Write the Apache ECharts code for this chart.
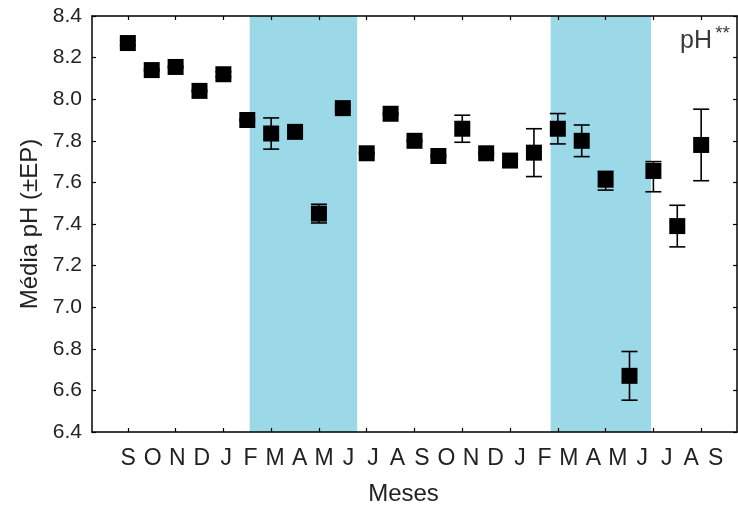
<!DOCTYPE html>
<html>
<head>
<meta charset="utf-8">
<script src="https://cdn.jsdelivr.net/npm/echarts@6/dist/echarts.min.js"></script>
<style>html,body{margin:0;padding:0;background:#fff}#c{width:738px;height:511px}</style>
</head>
<body>
<div id="c"></div>
<script>
const months = ['S','O','N','D','J','F','M','A','M','J','J','A','S','O','N','D','J','F','M','A','M','J','J','A','S'];
const phMean = [8.27,8.14,8.155,8.04,8.12,7.90,7.835,7.843,7.45,7.957,7.74,7.93,7.80,7.727,7.858,7.74,7.705,7.743,7.858,7.80,7.613,6.67,7.655,7.39,7.78];
const phErrLow  = [0.012,0.004,0.004,0.004,0.012,0.004,0.075,0.004,0.045,0.012,0.004,0.004,0.004,0.004,0.065,0.004,0.004,0.115,0.073,0.076,0.05,0.117,0.10,0.1,0.172];
const phErrHigh = [0.012,0.004,0.004,0.004,0.012,0.004,0.075,0.004,0.045,0.012,0.004,0.004,0.004,0.004,0.065,0.004,0.004,0.115,0.073,0.076,0.04,0.117,0.045,0.1,0.172];
const rainyStart = [5.1, 17.7];
const rainyEnd = [9.6, 21.9];
const yMin = 6.4, yMax = 8.4, yStep = 0.2;

const FONT = "'Liberation Sans', Arial, sans-serif";
const padCats = [''].concat(months, ['']);
const tickEvery2 = (idx) => idx >= 1 && idx <= months.length && (idx - 1) % 2 === 0;
const axLine = { show: true, onZero: false, lineStyle: { color: '#000', width: 1.5 } };
const tickIn = { show: true, inside: true, length: 4, lineStyle: { color: '#000', width: 1.2 } };

const chart = echarts.init(document.getElementById('c'), null, { renderer: 'canvas' });
chart.setOption({
  animation: false,
  backgroundColor: '#fff',
  grid: [
    { left: 92, right: 1, top: 16, bottom: 74 },
    { left: 116, right: 10, top: 16, bottom: 74 }
  ],
  graphic: [
    { type: 'text', right: 26, top: 29, style: { text: 'pH', font: '25px ' + FONT, fill: '#3a3a3a' } },
    { type: 'text', right: 8, top: 24, style: { text: '**', font: '19px ' + FONT, fill: '#3a3a3a' } }
  ],
  xAxis: [
    { type: 'category', gridIndex: 0, position: 'bottom', data: padCats, boundaryGap: true, z: 5,
      axisLine: axLine, axisTick: Object.assign({}, tickIn, { alignWithLabel: true, interval: tickEvery2 }),
      axisLabel: { show: false }, splitLine: { show: false },
      name: 'Meses', nameLocation: 'middle', nameGap: 50,
      nameTextStyle: { fontFamily: FONT, fontSize: 24, color: '#222', padding: [0, 22, 0, 0] } },
    { type: 'category', gridIndex: 0, position: 'top', data: padCats, boundaryGap: true, z: 5,
      axisLine: axLine, axisTick: Object.assign({}, tickIn, { alignWithLabel: true, interval: tickEvery2 }),
      axisLabel: { show: false }, splitLine: { show: false } },
    { type: 'value', gridIndex: 0, min: -1.5, max: months.length + 0.5, show: false },
    { type: 'category', gridIndex: 1, position: 'bottom', data: months, boundaryGap: true,
      axisLine: { show: false }, axisTick: { show: false }, splitLine: { show: false },
      axisLabel: { interval: 0, margin: 10, fontFamily: FONT, fontSize: 23, color: '#222' } }
  ],
  yAxis: [
    { type: 'value', gridIndex: 0, position: 'left', min: yMin, max: yMax, interval: yStep, z: 5,
      axisLine: axLine, axisTick: tickIn, splitLine: { show: false },
      axisLabel: { margin: 10, fontFamily: FONT, fontSize: 21, color: '#222', formatter: v => v.toFixed(1) },
      name: 'Média pH (±EP)', nameLocation: 'middle', nameGap: 50, nameRotate: 90,
      nameTextStyle: { fontFamily: FONT, fontSize: 24, color: '#222' } },
    { type: 'value', gridIndex: 0, position: 'right', min: yMin, max: yMax, interval: yStep, z: 5,
      axisLine: axLine, axisTick: tickIn, splitLine: { show: false }, axisLabel: { show: false } },
    { type: 'value', gridIndex: 1, min: yMin, max: yMax, show: false }
  ],
  series: [
    { type: 'custom', xAxisIndex: 2, yAxisIndex: 0, z: 3,
      data: phMean.map((v, i) => [i, v - phErrLow[i], v + phErrHigh[i]]),
      renderItem: function (params, api) {
        const x = api.value(0);
        const lo = api.coord([x, api.value(1)]);
        const hi = api.coord([x, api.value(2)]);
        const hw = 8;
        const st = { stroke: '#000', lineWidth: 1.6 };
        return { type: 'group', children: [
          { type: 'line', shape: { x1: lo[0], y1: lo[1], x2: hi[0], y2: hi[1] }, style: st },
          { type: 'line', shape: { x1: lo[0] - hw, y1: lo[1], x2: lo[0] + hw, y2: lo[1] }, style: st },
          { type: 'line', shape: { x1: hi[0] - hw, y1: hi[1], x2: hi[0] + hw, y2: hi[1] }, style: st }
        ] };
      },
      markArea: { silent: true, itemStyle: { color: '#9BD8E8' },
        data: rainyStart.map((s, k) => [{ xAxis: s }, { xAxis: rainyEnd[k] }]) }
    },
    { type: 'scatter', xAxisIndex: 2, yAxisIndex: 0, z: 4,
      symbol: 'rect', symbolSize: 16,
      itemStyle: { color: '#000', opacity: 1 },
      data: phMean.map((v, i) => [i, v]) }
  ]
});
</script>
</body>
</html>
